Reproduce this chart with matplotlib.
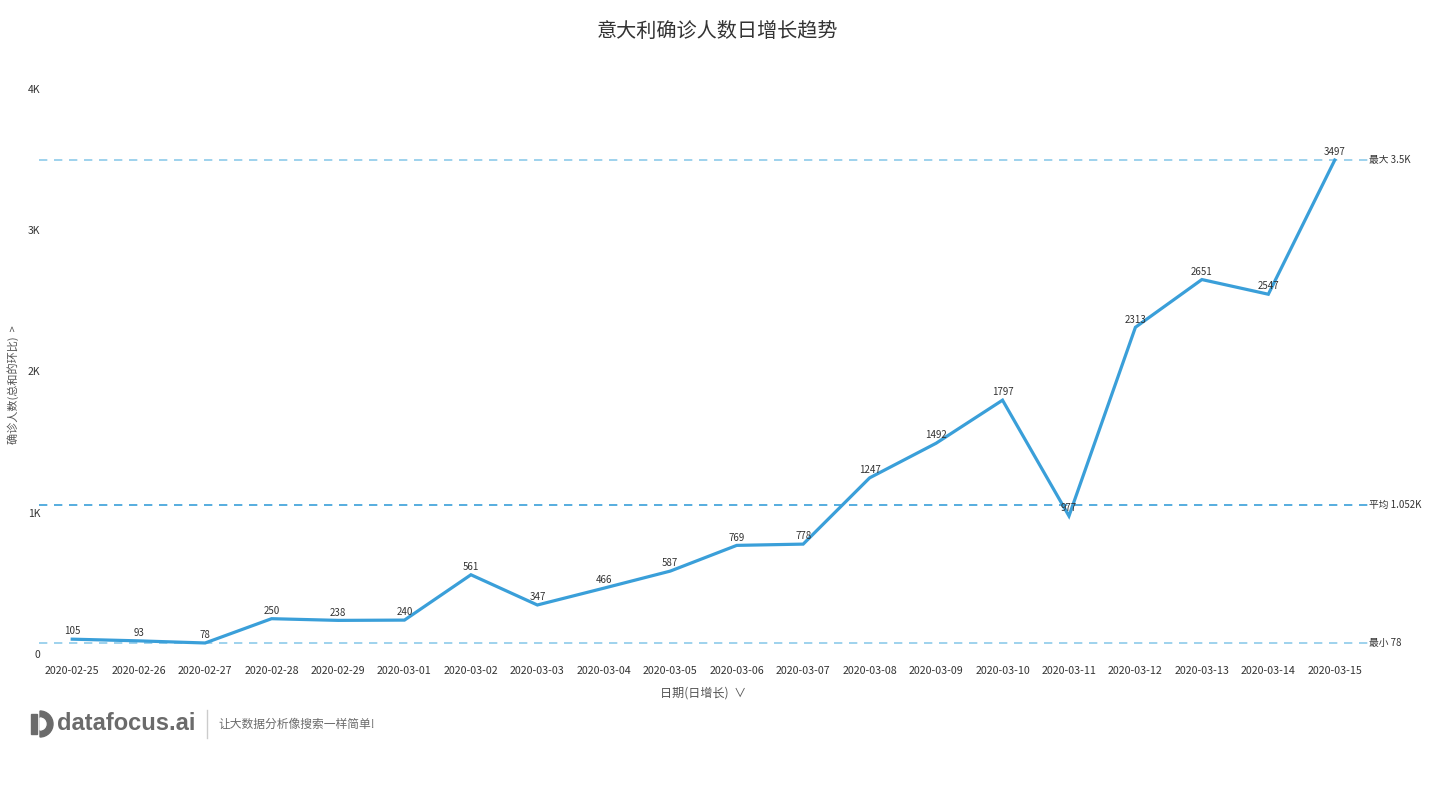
import matplotlib
matplotlib.use("Agg")
import matplotlib.pyplot as plt
from matplotlib.patches import Wedge, Rectangle

plt.rcParams['font.family'] = ['Noto Sans CJK SC', 'DejaVu Sans']

dates = ["2020-02-25", "2020-02-26", "2020-02-27", "2020-02-28", "2020-02-29",
         "2020-03-01", "2020-03-02", "2020-03-03", "2020-03-04", "2020-03-05",
         "2020-03-06", "2020-03-07", "2020-03-08", "2020-03-09", "2020-03-10",
         "2020-03-11", "2020-03-12", "2020-03-13", "2020-03-14", "2020-03-15"]
values = [105, 93, 78, 250, 238, 240, 561, 347, 466, 587,
          769, 778, 1247, 1492, 1797, 977, 2313, 2651, 2547, 3497]
yticks = [0, 1000, 2000, 3000, 4000]
ytick_labels = ["0", "1K", "2K", "3K", "4K"]
max_val = 3497
avg_val = 1052
min_val = 78
ref_labels = ["最大 3.5K", "平均 1.052K", "最小 78"]

W, H = 1435, 788
fig = plt.figure(figsize=(W / 100, H / 100), dpi=100)
ax = fig.add_axes([39 / W, 1 - 654 / H, (1368 - 39) / W, (654 - 89) / H])

x = list(range(len(values)))
ax.plot(x, values, color="#3a9fd9", lw=2.3, solid_joinstyle="miter", zorder=3)

for xi, v in zip(x, values):
    ax.annotate(str(v), (xi, v), xytext=(0, 2), textcoords="offset points",
                ha="center", va="bottom", fontsize=7, color="#333333", zorder=4)

light = "#8ecbea"
dark = "#3a9fd9"
for val, col, lab in [(max_val, light, ref_labels[0]), (avg_val, dark, ref_labels[1]),
                      (min_val, light, ref_labels[2])]:
    ax.axhline(val, color=col, lw=1.2, ls=(0, (5, 4)), zorder=2)
    ax.text(1.001, val, lab, transform=ax.get_yaxis_transform(), ha="left",
            va="center", fontsize=7, color="#333333")

ax.set_xlim(-0.5, len(values) - 0.5)
ax.set_ylim(0, 4000)
ax.set_xticks(x)
ax.set_xticklabels(dates, fontsize=7.7, color="#333333")
ax.set_yticks(yticks)
ax.set_yticklabels(ytick_labels, fontsize=7.5, color="#333333")
ax.tick_params(axis="x", length=0, pad=9)
ax.tick_params(axis="y", length=0, pad=-1)
for s in ax.spines.values():
    s.set_visible(False)

ax.set_xlabel("日期(日增长)  ∨", fontsize=8.7, color="#555555", labelpad=7)
fig.text(13 / W, 1 - 385 / H, "确诊人数(总和的环比)  >", rotation=90, ha="center",
         va="center", fontsize=8, color="#555555")

fig.text(0.5, 1 - 31 / H, "意大利确诊人数日增长趋势", ha="center", va="center",
         fontsize=14.5, color="#333333")

# watermark logo
lax = fig.add_axes([0, 0, 1, 1], facecolor="none")
lax.set_xlim(0, W)
lax.set_ylim(H, 0)
lax.axis("off")
lax.add_patch(Rectangle((31, 714), 6, 20, color="#6b6b6b"))
lax.add_patch(Wedge((40, 724), 13, -90, 90, color="#6b6b6b"))
lax.add_patch(Wedge((40, 724), 6, -90, 90, color="white"))
lax.text(57, 724, "datafocus.ai", ha="left", va="center", fontsize=17,
         fontweight="bold", color="#6b6b6b", family="Liberation Sans")
lax.plot([207, 207], [710, 738], color="#cccccc", lw=1)
lax.text(218, 724, "让大数据分析像搜索一样简单!", ha="left", va="center",
         fontsize=8.5, color="#6b6b6b")

fig.savefig("out.png", dpi=100)
